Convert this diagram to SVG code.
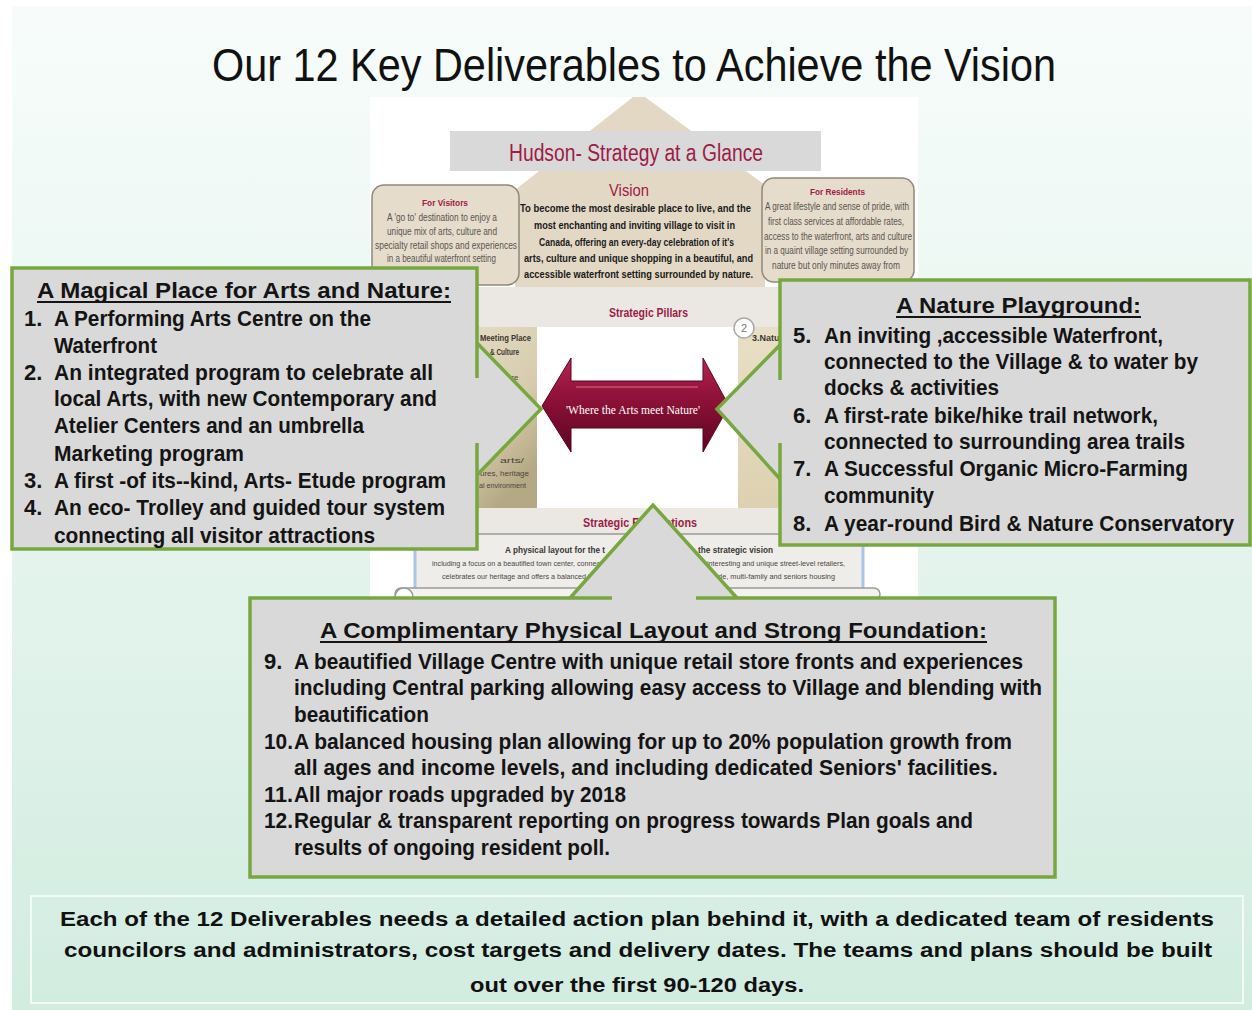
<svg xmlns="http://www.w3.org/2000/svg" width="1252" height="1010" viewBox="0 0 1252 1010">
<defs>
<linearGradient id="bg" x1="0" y1="0" x2="0" y2="1">
<stop offset="0" stop-color="#f7fcfa"/>
<stop offset="0.5" stop-color="#e6f5ee"/>
<stop offset="1" stop-color="#d2ece0"/>
</linearGradient>
<linearGradient id="arrowGrad" x1="0" y1="0" x2="0" y2="1">
<stop offset="0" stop-color="#b52650"/>
<stop offset="0.35" stop-color="#95133c"/>
<stop offset="1" stop-color="#5c0520"/>
</linearGradient>
<linearGradient id="pillarL" x1="0" y1="0" x2="0.4" y2="1">
<stop offset="0" stop-color="#e4dbc3"/>
<stop offset="0.6" stop-color="#d6cbad"/>
<stop offset="1" stop-color="#b5a884"/>
</linearGradient>
<linearGradient id="pillarR" x1="0" y1="0" x2="0" y2="1">
<stop offset="0" stop-color="#e8dfc6"/>
<stop offset="1" stop-color="#ddd1b1"/>
</linearGradient>
<style>
.box{fill:#d9d9d9;stroke:#77a83f;stroke-width:3.5}
.wedge{fill:#d9d9d9}
.gl{fill:none;stroke:#77a83f;stroke-width:3.5;stroke-linejoin:miter}
.ul{stroke:#141414;stroke-width:2}
.ct{font-family:'Liberation Sans',Arial,sans-serif;font-weight:bold;font-size:22px;fill:#141414}
.ft{font-family:'Liberation Sans',Arial,sans-serif;font-weight:bold;font-size:20px;fill:#111}
.ttl{font-family:'Liberation Sans',Arial,sans-serif;font-size:46px;fill:#111}
.red{font-family:'Liberation Sans',Arial,sans-serif;fill:#9e1b46}
.vis{font-family:'Liberation Sans',Arial,sans-serif;font-weight:bold;font-size:11px;fill:#1a1a1a}
.gr{font-family:'Liberation Sans',Arial,sans-serif;font-size:10px;fill:#5a5550}
.tiny{font-family:'Liberation Sans',Arial,sans-serif;font-size:8px;fill:#4a463f}
.tinyb{font-family:'Liberation Sans',Arial,sans-serif;font-size:9px;font-weight:bold;fill:#3a3630}
.beige{fill:#e2d8c4}
.rbox{fill:#e5dccb;stroke:#8e877a;stroke-width:1.5}
.band{fill:#ebe8e4}
</style>
</defs>

<rect x="0" y="0" width="1252" height="1010" fill="#ffffff"/>
<rect x="12" y="6" width="1240" height="1004" fill="url(#bg)"/>

<g id="title">
<text class="ttl" x="212" y="81" textLength="844" lengthAdjust="spacingAndGlyphs">Our 12 Key Deliverables to Achieve the Vision</text>
</g>

<g id="strategy-picture">
<rect x="370" y="97" width="548" height="503" fill="#ffffff"/>
<polygon class="beige" points="633,97 645,97 765,185 765,292 515,292 515,190"/>
<rect x="450" y="131" width="371" height="40" fill="#d9d9d9"/>
<text class="red" x="509" y="161" font-size="23" textLength="254" lengthAdjust="spacingAndGlyphs">Hudson- Strategy at a Glance</text>
<text class="red" x="609" y="196" font-size="17" textLength="40" lengthAdjust="spacingAndGlyphs">Vision</text>
<g transform="translate(520,212) scale(0.75,1)">
<text class="vis" x="0" y="0" textLength="308" lengthAdjust="spacingAndGlyphs">To become the most desirable place to live, and the</text>
</g>
<text class="vis" x="534" y="229" textLength="201" lengthAdjust="spacingAndGlyphs">most enchanting and inviting village to visit in</text>
<text class="vis" x="539" y="246" textLength="195" lengthAdjust="spacingAndGlyphs">Canada, offering an every-day celebration of it's</text>
<text class="vis" x="524" y="262" textLength="229" lengthAdjust="spacingAndGlyphs">arts, culture and unique shopping in a beautiful, and</text>
<text class="vis" x="524" y="278" textLength="229" lengthAdjust="spacingAndGlyphs">accessible waterfront setting surrounded by nature.</text>

<rect class="rbox" x="372" y="185" width="147" height="100" rx="12"/>
<text class="red" x="422" y="206" font-size="9.5" font-weight="bold" textLength="46" lengthAdjust="spacingAndGlyphs">For Visitors</text>
<text class="gr" x="387" y="221" textLength="110" lengthAdjust="spacingAndGlyphs">A 'go to' destination to enjoy a</text>
<text class="gr" x="387" y="235" textLength="110" lengthAdjust="spacingAndGlyphs">unique mix of arts, culture and</text>
<text class="gr" x="375" y="249" textLength="142" lengthAdjust="spacingAndGlyphs">specialty retail shops and experiences</text>
<text class="gr" x="387" y="262" textLength="109" lengthAdjust="spacingAndGlyphs">in a beautiful waterfront setting</text>

<rect class="rbox" x="762" y="178" width="152" height="104" rx="12"/>
<text class="red" x="810" y="195" font-size="9.5" font-weight="bold" textLength="55" lengthAdjust="spacingAndGlyphs">For Residents</text>
<text class="gr" x="765" y="210" textLength="144" lengthAdjust="spacingAndGlyphs">A great lifestyle and sense of pride, with</text>
<text class="gr" x="768" y="225" textLength="136" lengthAdjust="spacingAndGlyphs">first class services at affordable rates,</text>
<text class="gr" x="764" y="240" textLength="148" lengthAdjust="spacingAndGlyphs">access to the waterfront, arts and culture</text>
<text class="gr" x="765" y="254" textLength="143" lengthAdjust="spacingAndGlyphs">in a quaint village setting surrounded by</text>
<text class="gr" x="772" y="269" textLength="128" lengthAdjust="spacingAndGlyphs">nature but only minutes away from</text>

<rect class="band" x="430" y="287" width="400" height="40"/>
<text class="red" x="609" y="317" font-size="12" font-weight="bold" textLength="79" lengthAdjust="spacingAndGlyphs">Strategic Pillars</text>

<rect x="468" y="327" width="69" height="181" fill="url(#pillarL)"/>
<text class="tinyb" x="480" y="341" textLength="51" lengthAdjust="spacingAndGlyphs">Meeting Place</text>
<text class="tinyb" x="490" y="355" textLength="29" lengthAdjust="spacingAndGlyphs">&amp; Culture</text>
<text class="tiny" x="507" y="380">are</text>
<text class="tiny" x="500" y="463" textLength="24" lengthAdjust="spacingAndGlyphs">arts/</text>
<text class="tiny" x="480" y="476" textLength="49" lengthAdjust="spacingAndGlyphs">ures, heritage</text>
<text class="tiny" x="479" y="488" textLength="47" lengthAdjust="spacingAndGlyphs">al environment</text>

<rect x="738" y="327" width="52" height="181" fill="url(#pillarR)"/>
<text class="tinyb" x="752" y="341">3.Nature</text>
<circle cx="744" cy="328" r="10" fill="#ffffff" stroke="#aaaaaa" stroke-width="1.5"/>
<text x="744" y="332" text-anchor="middle" font-family="'Liberation Sans',Arial,sans-serif" font-size="11" fill="#777">2</text>

<rect class="band" x="430" y="508" width="440" height="27"/>
<text class="red" x="583" y="527" font-size="12" font-weight="bold" textLength="114" lengthAdjust="spacingAndGlyphs">Strategic Foundations</text>
<line x1="418" y1="534" x2="862" y2="534" stroke="#9a9a9a" stroke-width="1.5"/>
<rect x="415" y="535" width="448" height="53" fill="#efedea"/>
<line x1="415" y1="535" x2="415" y2="590" stroke="#a9c4e4" stroke-width="3"/>
<line x1="863" y1="535" x2="863" y2="590" stroke="#a9c4e4" stroke-width="3"/>
<text class="tinyb" x="505" y="553" textLength="100" lengthAdjust="spacingAndGlyphs">A physical layout for the t</text>
<text class="tinyb" x="698" y="553" textLength="75" lengthAdjust="spacingAndGlyphs">the strategic vision</text>
<text class="tiny" x="432" y="566" textLength="168" lengthAdjust="spacingAndGlyphs">including a focus on a beautified town center, connec</text>
<text class="tiny" x="707" y="566" textLength="138" lengthAdjust="spacingAndGlyphs">interesting and unique street-level retailers,</text>
<text class="tiny" x="442" y="579" textLength="150" lengthAdjust="spacingAndGlyphs">celebrates our heritage and offers a balanced h</text>
<text class="tiny" x="714" y="579" textLength="121" lengthAdjust="spacingAndGlyphs">ade, multi-family and seniors housing</text>
<rect x="395" y="588" width="485" height="12" rx="6" fill="#f4f2ef" stroke="#9a9a9a" stroke-width="1.5"/>
<circle cx="404" cy="597" r="9" fill="#ffffff" stroke="#9a9a9a" stroke-width="1.5"/>

<g id="arrow-where-arts-meet-nature">
<polygon points="542,406 571,358 571,381 703,381 703,358 729,406 703,452 703,428 571,428 571,452" fill="url(#arrowGrad)" stroke="#5a0520" stroke-width="1"/>
<line x1="576" y1="387" x2="698" y2="387" stroke="#d0607f" stroke-width="2" opacity="0.6"/>
<text x="566" y="414" font-family="'Liberation Serif','Times New Roman',serif" font-size="12" fill="#ffffff" textLength="134" lengthAdjust="spacingAndGlyphs">'Where the Arts meet Nature'</text>
</g>
</g>

<g id="connectors">
<polygon class="wedge" points="477,343 541,409 477,475 470,475 470,343"/>
<polyline class="gl" points="477,343 541,409 477,475"/>
<polygon class="wedge" points="780,345 717,409 780,479 787,479 787,345"/>
<polyline class="gl" points="780,345 717,409 780,479"/>
<polygon class="wedge" points="570,598 653,505 737,598 737,605 570,605"/>
<polyline class="gl" points="570,598 653,505 737,598"/>
</g>

<g id="callout-arts">
<path class="box" d="M477,378 V268 H12 V549 H477 V443"/>
<text class="ct" x="37" y="298" textLength="414" lengthAdjust="spacingAndGlyphs">A Magical Place for Arts and Nature:</text>
<line class="ul" x1="37" y1="302" x2="451" y2="302"/>
<text class="ct" x="24" y="326">1.</text>
<text class="ct" x="54" y="326" textLength="317" lengthAdjust="spacingAndGlyphs">A Performing Arts Centre on the</text>
<text class="ct" x="54" y="353" textLength="103" lengthAdjust="spacingAndGlyphs">Waterfront</text>
<text class="ct" x="24" y="380">2.</text>
<text class="ct" x="54" y="380" textLength="379" lengthAdjust="spacingAndGlyphs">An integrated program to celebrate all</text>
<text class="ct" x="54" y="406" textLength="383" lengthAdjust="spacingAndGlyphs">local Arts, with new Contemporary and</text>
<text class="ct" x="54" y="433" textLength="310" lengthAdjust="spacingAndGlyphs">Atelier Centers and an umbrella</text>
<text class="ct" x="54" y="461" textLength="190" lengthAdjust="spacingAndGlyphs">Marketing program</text>
<text class="ct" x="24" y="488">3.</text>
<text class="ct" x="54" y="488" textLength="392" lengthAdjust="spacingAndGlyphs">A first -of its--kind, Arts- Etude program</text>
<text class="ct" x="24" y="515">4.</text>
<text class="ct" x="54" y="515" textLength="391" lengthAdjust="spacingAndGlyphs">An eco- Trolley and guided tour system</text>
<text class="ct" x="54" y="543" textLength="321" lengthAdjust="spacingAndGlyphs">connecting all visitor attractions</text>
</g>

<g id="callout-nature">
<path class="box" d="M780,380 V280 H1250 V545 H780 V443"/>
<text class="ct" x="896" y="313" textLength="245" lengthAdjust="spacingAndGlyphs">A Nature Playground:</text>
<line class="ul" x1="896" y1="317" x2="1141" y2="317"/>
<text class="ct" x="793" y="343">5.</text>
<text class="ct" x="824" y="343" textLength="339" lengthAdjust="spacingAndGlyphs">An inviting ,accessible Waterfront,</text>
<text class="ct" x="824" y="369" textLength="374" lengthAdjust="spacingAndGlyphs">connected to the Village &amp; to water by</text>
<text class="ct" x="824" y="395" textLength="175" lengthAdjust="spacingAndGlyphs">docks &amp; activities</text>
<text class="ct" x="793" y="423">6.</text>
<text class="ct" x="824" y="423" textLength="334" lengthAdjust="spacingAndGlyphs">A first-rate bike/hike trail network,</text>
<text class="ct" x="824" y="449" textLength="361" lengthAdjust="spacingAndGlyphs">connected to surrounding area trails</text>
<text class="ct" x="793" y="476">7.</text>
<text class="ct" x="824" y="476" textLength="364" lengthAdjust="spacingAndGlyphs">A Successful Organic Micro-Farming</text>
<text class="ct" x="824" y="503" textLength="110" lengthAdjust="spacingAndGlyphs">community</text>
<text class="ct" x="793" y="531">8.</text>
<g transform="translate(824,531) scale(0.82,1)">
<text class="ct" x="0" y="0" textLength="500" lengthAdjust="spacingAndGlyphs">A year-round Bird &amp; Nature Conservatory</text>
</g>
</g>

<g id="callout-foundation">
<path class="box" d="M612,598 H250 V877 H1055 V598 H696"/>
<text class="ct" x="320" y="638" textLength="667" lengthAdjust="spacingAndGlyphs">A Complimentary Physical Layout and Strong Foundation:</text>
<line class="ul" x1="320" y1="642" x2="987" y2="642"/>
<text class="ct" x="264" y="669">9.</text>
<text class="ct" x="294" y="669" textLength="729" lengthAdjust="spacingAndGlyphs">A beautified Village Centre with unique retail store fronts and experiences</text>
<text class="ct" x="294" y="695" textLength="748" lengthAdjust="spacingAndGlyphs">including Central parking allowing easy access to Village and blending with</text>
<text class="ct" x="294" y="722" textLength="135" lengthAdjust="spacingAndGlyphs">beautification</text>
<text class="ct" x="264" y="749" textLength="29" lengthAdjust="spacingAndGlyphs">10.</text>
<text class="ct" x="294" y="749" textLength="718" lengthAdjust="spacingAndGlyphs">A balanced housing plan allowing for up to 20% population growth from</text>
<text class="ct" x="294" y="775" textLength="704" lengthAdjust="spacingAndGlyphs">all ages and income levels, and including dedicated Seniors' facilities.</text>
<text class="ct" x="264" y="802" textLength="29" lengthAdjust="spacingAndGlyphs">11.</text>
<text class="ct" x="294" y="802" textLength="332" lengthAdjust="spacingAndGlyphs">All major roads upgraded by 2018</text>
<text class="ct" x="264" y="828" textLength="29" lengthAdjust="spacingAndGlyphs">12.</text>
<text class="ct" x="294" y="828" textLength="679" lengthAdjust="spacingAndGlyphs">Regular &amp; transparent reporting on progress towards Plan goals and</text>
<text class="ct" x="294" y="855" textLength="316" lengthAdjust="spacingAndGlyphs">results of ongoing resident poll.</text>
</g>

<g id="footer-note">
<rect x="31" y="896" width="1212" height="107" fill="none" stroke="#f4fbf7" stroke-width="2"/>
<text class="ft" x="60" y="926" textLength="1154" lengthAdjust="spacingAndGlyphs">Each of the 12 Deliverables needs a detailed action plan behind it, with a dedicated team of residents</text>
<text class="ft" x="64" y="957" textLength="1148" lengthAdjust="spacingAndGlyphs">councilors and administrators, cost targets and delivery dates. The teams and plans should be built</text>
<text class="ft" x="470" y="992" textLength="334" lengthAdjust="spacingAndGlyphs">out over the first 90-120 days.</text>
</g>
</svg>
